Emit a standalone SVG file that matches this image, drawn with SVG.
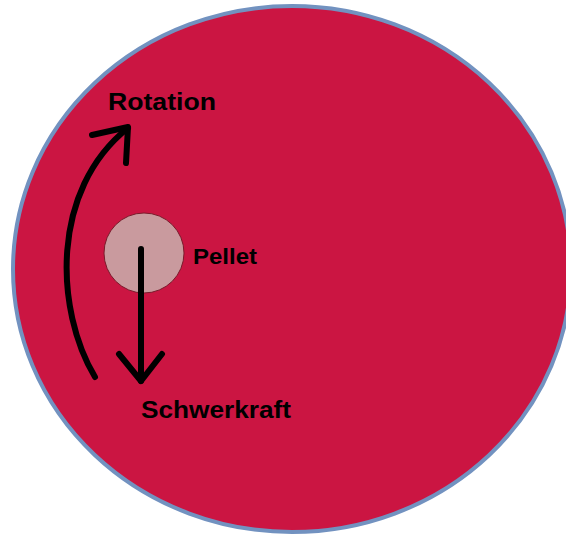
<svg xmlns="http://www.w3.org/2000/svg" width="566" height="535" viewBox="0 0 566 535">
<style>
text{font-family:"Liberation Sans",Arial,sans-serif;font-weight:bold;fill:#000}
.arr{fill:none;stroke:#000;stroke-width:6;stroke-linecap:round;stroke-linejoin:round}
</style>
<rect width="566" height="535" fill="#fff"/>
<g id="disc">
<ellipse cx="292" cy="269" rx="279" ry="263" fill="#cb1542" stroke="#7292c0" stroke-width="4"/>
</g>
<g id="pellet">
<circle cx="144" cy="253" r="40" fill="#c99a9e" stroke="#7a1c2c" stroke-width="1"/>
<text x="193" y="264" font-size="22" textLength="64" lengthAdjust="spacingAndGlyphs">Pellet</text>
</g>
<g id="connectors">
<path class="arr" d="M95 377 C55 310 50 190 128 128"/>
<path class="arr" d="M92 135 L128 127 L126 163"/>
<path class="arr" d="M141 249 L141 381"/>
<path class="arr" d="M119 354 L141 381 L162 354"/>
</g>
<g id="rotation-label">
<text x="108" y="110" font-size="23" textLength="108" lengthAdjust="spacingAndGlyphs">Rotation</text>
</g>
<g id="gravity-label">
<text x="141" y="418" font-size="24" textLength="150" lengthAdjust="spacingAndGlyphs">Schwerkraft</text>
</g>
</svg>
